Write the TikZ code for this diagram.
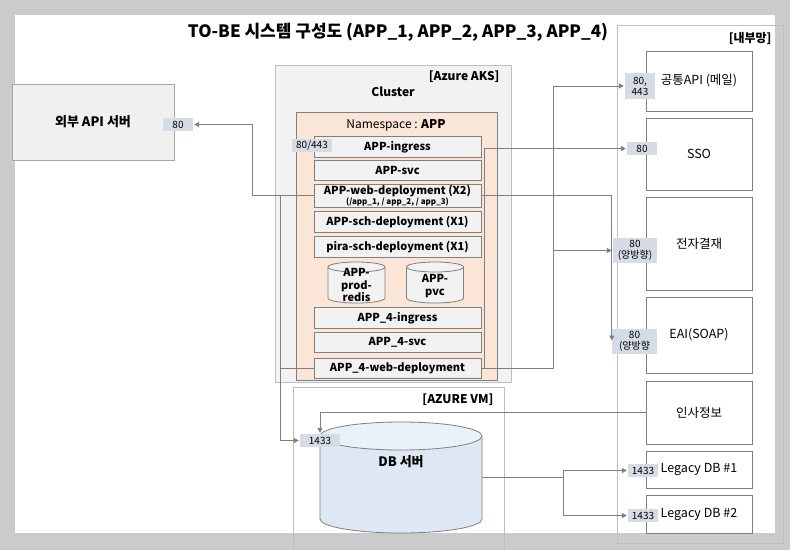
\documentclass[tikz,border=0pt]{standalone}
\usepackage{fontspec}
\setmainfont{Noto Sans CJK KR}
\usepackage{tikz}
\usetikzlibrary{positioning,arrows.meta}

\definecolor{pagegray}{HTML}{CBCBCB}
\definecolor{linegray}{HTML}{7F7F7F}
\definecolor{framegray}{HTML}{BFBFBF}
\definecolor{extgray}{HTML}{A6A6A6}
\definecolor{boxgray}{HTML}{F2F2F2}
\definecolor{extfill}{HTML}{F0F0F0}
\definecolor{nsfill}{HTML}{FBE5D6}
\definecolor{portfill}{HTML}{D6DCE5}
\definecolor{dbfill}{HTML}{DEE8F4}
\definecolor{dbtop}{HTML}{EAF1F9}

\begin{document}
\begin{tikzpicture}[x=1pt,y=1pt,
      font=\fontsize{11}{13}\selectfont,
      zone/.style ={draw=framegray,line width=0.8pt},
      item/.style ={draw=linegray,fill=boxgray,line width=0.8pt,minimum width=167pt,minimum height=20.5pt,inner sep=0pt,font=\fontsize{11}{13}\selectfont\bfseries},
      sys/.style  ={draw=linegray,fill=white,line width=0.8pt,minimum width=106pt,inner sep=0pt,align=center,font=\fontsize{12.5}{15}\selectfont},
      port/.style ={fill=portfill,inner sep=0pt,minimum height=13pt,align=center,font=\fontsize{10}{11}\selectfont},
      head/.style ={font=\fontsize{12}{14}\selectfont\bfseries},
      link/.style ={draw=linegray,line width=1pt},
      arr/.style  ={link,-{Triangle[length=5pt,width=5pt]},shorten >=1pt}]
      % Page
      \useasboundingbox (0,0) rectangle (790,-550);
      \fill[pagegray] (0,0) rectangle (790,-550);
      \fill[white] (15,-15) rectangle (775,-533);
      % Title
      \node[font=\fontsize{17}{20}\selectfont\bfseries] (title) at (398,-32) {TO-BE 시스템 구성도 (APP\_1, APP\_2, APP\_3, APP\_4)};
      % Helper macro (cylinder)
      \newcommand{\drum}[8]{%
        \filldraw[#7] ({#2-#5},{-(#3+#6)}) -- ({#2-#5},{-(#4-#6)}) arc (180:360:#5 and #6) -- ({#2+#5},{-(#3+#6)}) -- cycle;
        \filldraw[#8] (#2,{-(#3+#6)}) ellipse (#5 and #6);
        \node[inner sep=0pt,minimum width={2*#5pt},minimum height={(#4-#3)*1pt}] (#1) at (#2,{-(#3+#4)/2}) {};
      }
      % External API
      \node[draw=extgray,fill=extfill,line width=0.8pt,minimum width=162pt,minimum height=76pt,font=\fontsize{13}{15}\selectfont\bfseries] (ext) at (93,-122) {외부 API 서버};
      \node[port,minimum width=30pt] (extport) at (178,-124.5) {80};
      % Cluster
      \draw[zone,fill=boxgray] (275,-65) rectangle (511,-382);
      \node[head,anchor=east] (aks) at (503,-77) {[Azure AKS]};
      \node[head] (cluster) at (393,-92) {Cluster};
      \draw[draw=linegray,fill=nsfill,line width=0.8pt] (296,-112) rectangle (497,-380);
      \node[font=\fontsize{12}{14}\selectfont] (ns) at (396,-125) {Namespace : \textbf{APP}};
      % Deployments
      \foreach \nm/\yy/\txt in {ing/147/APP-ingress, svc/170.5/APP-svc, sch/222/APP-sch-deployment (X1),
                               pira/247/pira-sch-deployment (X1), ingb/318/APP\_4-ingress,
                               svcb/342.5/APP\_4-svc, webb/368.5/APP\_4-web-deployment}
        {\node[item] (\nm) at (397.5,-\yy) {\txt};}
      \node[item,minimum height=23pt,align=center] (web) at (397.5,-195.5) {APP-web-deployment (X2)\\[-3pt]{\fontsize{8}{9}\selectfont (/app\_1, / app\_2, / app\_3)}};
      \node[port,minimum width=40pt] (ingport) at (312,-145.5) {80/443};
      % Volumes
      \drum{redis}{356.5}{262}{303}{28.5}{5}{draw=linegray,fill=boxgray,line width=0.8pt}{draw=linegray,fill=boxgray,line width=0.8pt}
      \node[font=\fontsize{11}{12.5}\selectfont\bfseries,align=center] (redistxt) at (356.5,-285) {APP-\\prod-\\redis};
      \drum{pvc}{435}{262}{303}{28.5}{5}{draw=linegray,fill=boxgray,line width=0.8pt}{draw=linegray,fill=boxgray,line width=0.8pt}
      \node[font=\fontsize{11}{12.5}\selectfont\bfseries,align=center] (pvctxt) at (435,-286) {APP-\\pvc};
      % Azure VM
      \draw[zone] (293,-550) |- (504,-387) -- (504,-550);
      \node[head,anchor=east] (vm) at (497,-400) {[AZURE VM]};
      \drum{db}{401}{422}{533}{81}{14}{draw=linegray,fill=dbfill,line width=0.8pt}{draw=linegray,fill=dbtop,line width=0.8pt}
      \node[font=\fontsize{13}{15}\selectfont\bfseries] (dbtxt) at (401,-462) {DB 서버};
      \node[port,minimum width=40pt] (dbport) at (320,-440.5) {1433};
      % Internal network
      \draw[zone] (617,-25) rectangle (783,-543);
      \node[head,anchor=east] (lan) at (775,-38) {[내부망]};
      \node[sys,minimum height=60pt] (mail) at (699,-81) {공통API (메일)};
      \node[sys,minimum height=72pt] (sso) at (699,-154) {SSO};
      \node[sys,minimum height=93pt] (esign) at (699,-243.5) {전자결재};
      \node[sys,minimum height=76pt] (eai) at (699,-335) {EAI(SOAP)};
      \node[sys,minimum height=63pt] (hr) at (699,-412.5) {인사정보};
      \node[sys,minimum height=37pt] (leg1) at (699,-469.5) {Legacy DB \#1};
      \node[sys,minimum height=38pt] (leg2) at (699,-514) {Legacy DB \#2};
      \node[port,minimum width=30pt,minimum height=26pt] (mailport) at (640,-86) {80,\\443};
      \node[port,minimum width=30pt] (ssoport) at (642,-148.5) {80};
      \node[port,minimum width=44pt,minimum height=25pt] (esignport) at (635,-250.5) {80\\(양방향)};
      \node[port,minimum width=45pt,minimum height=25pt] (eaiport) at (634.5,-341.5) {80\\(양방향};
      \node[port,minimum width=30pt] (leg1port) at (643,-470.5) {1433};
      \node[port,minimum width=30pt] (leg2port) at (643,-515.5) {1433};
      % Connectors
      \coordinate (busx) at (553,-369);
      \coordinate (split) at (563,-478);
      \draw[arr] (web.west) -- ++(-61,0) |- (extport.east);
      \draw[arr] (web.west) -- ++(-33,0) |- (dbport.west);
      \draw[link] (webb.west) -- ++(-33,0);
      \draw[arr] (webb.east) -- ++(3,0) |- (ssoport.west);
      \draw[arr] (webb.east) -- (webb.east -| busx) |- (mailport.west);
      \draw[arr] (esignport.west -| busx) -- (esignport.west);
      \draw[arr] (web.east) -| (eaiport.west);
      \draw[arr] (hr.west) -| (dbport.north);
      \draw[arr] (db.east) -- (db.east -| split) |- (leg1port.west);
      \draw[arr] (db.east -| split) |- (leg2port.west);
  \end{tikzpicture}
\end{document}
